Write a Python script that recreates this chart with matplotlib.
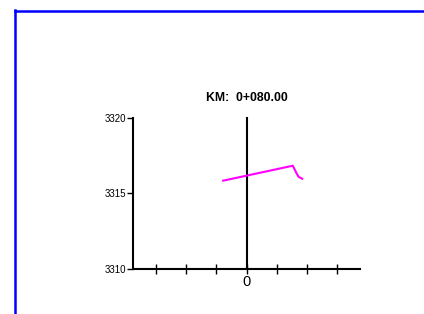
import matplotlib
matplotlib.use("Agg")
import matplotlib.pyplot as plt
from matplotlib.lines import Line2D

# cross-section profile (offset in m, elevation in m)
offset = [-1.54, 3.06, 3.30, 3.45, 3.68]
elev = [3315.85, 3316.84, 3316.35, 3316.10, 3315.98]

y_ticks = [3310, 3315, 3320]
x_ticks = [-6, -4, -2, 0, 2, 4, 6]
title = "KM:  0+080.00"

W, H = 424, 314
fig = plt.figure(figsize=(W / 100, H / 100), dpi=100)
fig.patch.set_facecolor("white")

# axes box spans the drawing area (px)
left_px, right_px = 133, 360
bot_px, top_px = 269, 118
ax = fig.add_axes([left_px / W, 1 - bot_px / H,
                   (right_px - left_px) / W, (bot_px - top_px) / H])
ax.set_xlim(-7.5, 7.5)
ax.set_ylim(3310, 3320)

for s in ["top", "right"]:
    ax.spines[s].set_visible(False)
for s in ["left", "bottom"]:
    ax.spines[s].set_linewidth(1.5)
    ax.spines[s].set_color("black")

ax.set_yticks(y_ticks)
ax.set_yticklabels([str(v) for v in y_ticks], fontsize=7, family="Liberation Sans")
ax.tick_params(axis="y", direction="out", length=4, width=1, pad=1)

ax.set_xticks(x_ticks)
ax.set_xticklabels(["0" if v == 0 else "" for v in x_ticks], fontsize=10.5,
                   family="Liberation Sans")
ax.tick_params(axis="x", direction="inout", length=7, width=1, pad=1)

# center line
ax.plot([0, 0], [3310, 3320], color="black", linewidth=1.5, clip_on=False)
# ground profile
ax.plot(offset, elev, color="#ff00ff", linewidth=1.5, clip_on=False)

ax.text(0, 3320.9, title, ha="center", va="bottom", fontsize=8.8,
        fontweight="bold", family="Liberation Sans")

# blue frame (partially cropped)
fig.add_artist(Line2D([14.5 / W, 14.5 / W], [0, 1 - 10 / H], color="#0000ff",
                      linewidth=1.8, transform=fig.transFigure))
fig.add_artist(Line2D([14.5 / W, 1], [1 - 10.5 / H, 1 - 10.5 / H], color="#0000ff",
                      linewidth=1.8, transform=fig.transFigure))

fig.savefig("out.png", dpi=100)
